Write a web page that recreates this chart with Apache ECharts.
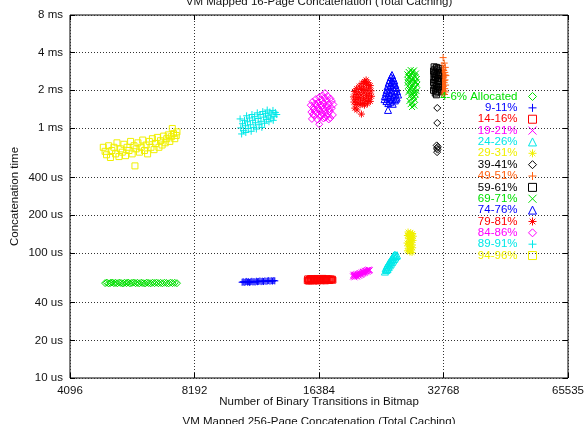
<!DOCTYPE html>
<html>
<head>
<meta charset="utf-8">
<script src="https://cdn.jsdelivr.net/npm/echarts@6/dist/echarts.min.js"></script>
<style>
  html, body { margin: 0; padding: 0; background: #fff; }
  #chart { width: 585px; height: 424px; }
</style>
</head>
<body>
<div id="chart"></div>
<script>
// Axis ticks
const xTickLabels = ['4096', '8192', '16384', '32768', '65535'];
const yTickUs = [10, 20, 40, 100, 200, 400, 1000, 2000, 4000, 8000];

// Series names, in legend order
const seriesNames = ['4-6% Allocated', '9-11%', '14-16%', '19-21%', '24-26%', '29-31%', '39-41%',
  '49-51%', '59-61%', '69-71%', '74-76%', '79-81%', '84-86%', '89-91%', '94-96%'];

// Measurements: [binary transitions, concatenation time in microseconds]
const alloc04_06 = [[4980,57.4],[5030,57.9],[5080,57.1],[5130,57.6],[5180,58.0],[5230,57.3],[5280,57.7],[5330,57.2],[5390,57.9],[5440,57.5],[5500,57.1],[5550,57.8],[5610,57.4],[5660,57.9],[5720,57.2],[5780,57.6],[5840,58.0],[5900,57.3],[5960,57.7],[6020,57.2],[6090,57.8],[6150,57.4],[6220,57.1],[6280,57.9],[6350,57.5],[6420,57.2],[6490,57.8],[6560,57.4],[6630,57.9],[6700,57.3],[6780,57.7],[6850,57.2],[6930,57.8],[7010,57.5],[7090,57.1],[7170,57.9],[7250,57.4],[7340,57.7],[7430,57.3]];
const alloc09_11 = [[10680,58.3],[10740,58.9],[10800,58.1],[10870,58.6],[10930,59.2],[11000,58.4],[11060,58.9],[11130,58.2],[11200,58.7],[11270,59.3],[11340,58.6],[11410,59.0],[11480,58.5],[11560,59.4],[11630,58.9],[11710,59.2],[11790,59.7],[11870,59.0],[11950,59.5],[12030,59.1],[12120,59.8],[12200,59.3],[12290,59.7],[12380,60.1],[12470,59.5],[12560,60.0],[12650,59.6],[12740,60.2],[12810,59.8]];
const alloc14_16 = [[15350,60.1],[15380,62.0],[15460,59.6],[15500,61.3],[15580,60.5],[15620,62.4],[15700,59.9],[15760,61.7],[15830,60.8],[15900,62.2],[15960,59.7],[16030,61.1],[16100,60.3],[16170,62.5],[16240,60.9],[16310,59.8],[16380,61.6],[16450,60.4],[16530,62.1],[16600,60.0],[16680,61.4],[16750,62.6],[16830,60.6],[16910,61.9],[16990,59.9],[17070,61.2],[17150,62.3],[17230,60.7],[17320,61.8],[17400,60.2],[17490,62.0],[17570,61.0],[17650,61.7],[17700,60.6]];
const alloc19_21 = [[19810,64.8],[19850,67.0],[19900,65.6],[19960,63.9],[20010,66.8],[20070,65.2],[20130,67.6],[20190,66.0],[20250,64.7],[20300,68.1],[20360,66.5],[20420,67.9],[20480,65.8],[20540,69.0],[20600,67.2],[20660,68.6],[20720,66.9],[20790,69.8],[20850,68.0],[20920,70.5],[20980,68.9],[21040,70.9],[21110,69.4],[21170,72.0],[21240,70.2],[21300,71.6],[21380,73.0],[21450,70.8],[21520,72.4],[21590,73.6],[21660,71.9],[21730,73.1]];
const alloc24_26 = [[23650,71],[23850,73],[23750,75.5],[24000,74.5],[23900,78],[24150,77],[24050,80.5],[24300,79.5],[24150,83],[24450,82],[24300,85.5],[24600,84.5],[24450,88],[24750,87],[24600,90.5],[24900,89.5],[24700,93],[25050,92],[24850,95.5],[25200,94.5],[25000,97],[25300,96]];
const alloc29_31 = [[26900,147],[27300,145],[27600,143],[27100,141],[27450,139],[26800,138],[27700,136],[27200,134],[27500,132],[26950,130],[27350,128],[27650,126],[27050,124],[27400,122],[26750,120],[27150,118],[27550,116],[26850,114],[27250,112],[27600,110],[27000,108],[27400,106],[26800,104],[27200,102],[27500,101]];
const alloc39_41 = [[31650,1445],[31650,1096],[31550,725],[31750,705],[31600,690],[31700,670],[31620,640]];
const alloc49_51 = [[32700,3650],[32900,3300],[32500,3150],[33100,3050],[32700,2950],[32400,2850],[33000,2780],[32600,2700],[33200,2620],[32800,2550],[32450,2480],[33050,2420],[32650,2360],[32900,2300],[32350,2250],[33150,2200],[32750,2150],[32500,2100],[33000,2060],[32600,2020],[32850,1980],[33100,1940],[32450,1920],[32700,1880],[32950,1850],[32550,2230],[33050,2650],[32800,2880],[32550,2580],[32900,2400]];
const alloc59_61 = [[31100,3080],[31500,3050],[31800,3000],[31250,2950],[31650,2900],[31000,2850],[31400,2800],[31800,2760],[31150,2700],[31550,2650],[31900,2600],[31050,2560],[31350,2520],[31700,2480],[31200,2430],[31600,2390],[31850,2350],[31000,2310],[31400,2270],[31750,2230],[31100,2190],[31500,2150],[31850,2120],[31250,2080],[31650,2040],[31000,2000],[31400,1970],[31750,1940],[31300,1900],[31500,1840]];
const alloc69_71 = [[27300,2900],[27800,2880],[27000,2800],[27550,2760],[28100,2720],[26800,2680],[27300,2640],[27900,2600],[27100,2540],[27650,2500],[28250,2460],[26850,2420],[27400,2380],[27950,2340],[27150,2290],[27700,2250],[28300,2210],[26900,2170],[27450,2130],[28000,2090],[27200,2050],[27750,2010],[28200,1970],[26950,1930],[27500,1890],[28050,1850],[27250,1810],[27800,1770],[27400,1720],[27950,1680],[27100,1640],[27650,1600],[27300,1550],[27850,1510],[27500,1470],[27600,2820],[26950,2560],[28050,2550],[27450,2450],[26850,2300],[28150,2320],[27550,2200],[27100,2000],[27900,1930],[27600,1830]];
const alloc74_76 = [[24600,2650],[24450,2550],[24750,2500],[24300,2420],[24900,2400],[24550,2350],[24150,2300],[24800,2280],[25050,2230],[24400,2200],[24000,2150],[24700,2120],[25200,2100],[24250,2060],[23900,2020],[24950,2000],[25300,1970],[24550,1950],[23800,1920],[24150,1900],[25100,1880],[25450,1850],[24400,1830],[23650,1800],[24800,1790],[23950,1760],[25250,1750],[24250,1720],[23600,1700],[24650,1690],[25000,1660],[23850,1640],[24400,1620],[24100,1580],[24700,1560],[24060,1393],[25150,1710]];
const alloc79_81 = [[21300,2420],[21100,2350],[21550,2300],[20800,2270],[21350,2220],[21800,2180],[20500,2160],[21000,2120],[21600,2080],[20200,2060],[20750,2030],[21300,2000],[21900,1980],[19950,1960],[20450,1930],[21050,1910],[21650,1880],[20150,1850],[20700,1830],[21350,1810],[21950,1790],[19850,1770],[20400,1750],[21000,1730],[21600,1710],[20100,1690],[20650,1670],[21250,1650],[21800,1630],[19900,1610],[20350,1590],[20900,1570],[21450,1560],[20150,1540],[20600,1530],[21100,1520],[20240,1393],[20750,1290],[20000,1440]];
const alloc84_86 = [[16940,1900],[16700,1820],[17200,1800],[16400,1760],[16900,1740],[17450,1720],[16100,1700],[16600,1680],[17100,1660],[17600,1640],[15800,1620],[16300,1600],[16800,1580],[17300,1560],[17750,1540],[15650,1520],[16150,1500],[16650,1480],[17150,1460],[17600,1440],[15900,1420],[16400,1400],[16900,1380],[17400,1360],[15700,1340],[16200,1320],[16700,1300],[17200,1290],[17700,1270],[15950,1250],[16450,1230],[16950,1210],[17450,1200],[15750,1180],[16250,1165],[16800,1190],[17300,1170],[16400,1070],[16050,1560],[16550,1540],[17050,1520],[15850,1460],[16350,1440],[16850,1430],[17350,1410],[16000,1360],[16500,1350],[17000,1330],[15850,1280],[16600,1250],[17100,1240]];
const alloc89_91 = [[10560,1180],[10600,1000],[10650,895],[10700,1080],[10760,950],[10820,1150],[10880,1040],[10900,920],[10950,1250],[11000,1120],[11050,990],[11120,1200],[11180,1060],[11230,940],[11280,1280],[11330,1150],[11400,1010],[11450,1230],[11500,1100],[11560,980],[11620,1320],[11680,1190],[11740,1060],[11800,1280],[11860,1130],[11920,1010],[11980,1350],[12040,1220],[12100,1090],[12160,1300],[12220,1170],[12280,1390],[12340,1250],[12400,1120],[12460,1340],[12520,1200],[12600,1290],[12680,1380],[12760,1230],[12850,1330],[12950,1280],[12700,1150]];
const alloc94_96 = [[4930,700],[4980,650],[5020,610],[5080,720],[5130,580],[5170,660],[5230,700],[5280,620],[5320,760],[5380,590],[5430,680],[5480,640],[5530,740],[5580,600],[5630,700],[5690,660],[5740,780],[5790,620],[5850,720],[5880,497],[5920,680],[5980,760],[6030,640],[6090,700],[6140,800],[6200,660],[6260,730],[6310,620],[6370,780],[6430,700],[6480,820],[6540,670],[6600,750],[6660,840],[6720,700],[6780,790],[6840,730],[6900,860],[6960,760],[7020,820],[7080,880],[7140,780],[7200,850],[7240,990],[7290,900],[7340,820],[7400,870],[7430,930]];

const seriesData = [alloc04_06, alloc09_11, alloc14_16, alloc19_21, alloc24_26, alloc29_31, alloc39_41,
  alloc49_51, alloc59_61, alloc69_71, alloc74_76, alloc79_81, alloc84_86, alloc89_91, alloc94_96];

// Point styles (gnuplot-like point types)
const PT = {
  diamond: { symbol: 'diamond', size: 7 },
  plus: { symbol: 'path://M0,5L10,5M5,0L5,10', size: 7 },
  square: { symbol: 'rect', size: 6 },
  cross: { symbol: 'path://M0,0L10,10M0,10L10,0', size: 6 },
  triangle: { symbol: 'triangle', size: 7 },
  star: { symbol: 'path://M0,5L10,5M5,0L5,10M1.5,1.5L8.5,8.5M1.5,8.5L8.5,1.5', size: 7 }
};
const seriesPoints = ['diamond', 'plus', 'square', 'cross', 'triangle', 'star', 'diamond',
  'plus', 'square', 'cross', 'triangle', 'star', 'diamond', 'plus', 'square'];
const seriesColors = ['#00e000', '#0000ff', '#ff0000', '#ff00ff', '#00e8e8', '#f0f000', '#000000',
  '#ff6010', '#000000', '#00e000', '#0000ff', '#ff0000', '#ff00ff', '#00e8e8', '#f0f000'];

const FONT = '"Liberation Sans", Arial, Helvetica, sans-serif';
const log10 = v => Math.log(v) / Math.LN10;
const yTickLog = yTickUs.map(log10);
const fmtTime = us => (us >= 1000 ? (us / 1000) + ' ms' : us + ' us');

const chart = echarts.init(document.getElementById('chart'), null, { renderer: 'canvas' });

const grid = { left: 70, right: 17, top: 15, bottom: 46, show: true, borderColor: '#000', borderWidth: 1, outerBoundsMode: 'none' };

const series = seriesNames.map((name, i) => {
  const pt = PT[seriesPoints[i]];
  return {
    name: name,
    type: 'scatter',
    xAxisIndex: 0,
    yAxisIndex: 0,
    data: seriesData[i],
    symbol: pt.symbol,
    symbolSize: pt.size,
    itemStyle: { color: 'rgba(0,0,0,0)', borderColor: seriesColors[i], borderWidth: 1, opacity: 1 },
    emphasis: { disabled: true },
    silent: true
  };
});

const legends = seriesNames.map((name, i) => ({
  data: [{ name: name, textStyle: { color: seriesColors[i] } }],
  orient: 'vertical',
  right: 48,
  top: 90.5 + i * 11.36,
  align: 'right',
  padding: 0,
  itemWidth: 8,
  itemHeight: 8,
  selectedMode: false,
  itemStyle: { borderWidth: 1 },
  textStyle: { fontFamily: FONT, fontSize: 11.5, padding: [0, 6, 0, 0] }
}));

const tickLine = { show: true, inside: true, length: 5, lineStyle: { color: '#000', width: 1 } };
const gridDots = { show: true, lineStyle: { color: '#333', type: [1, 2], width: 1 } };

chart.setOption({
  animation: false,
  backgroundColor: '#fff',
  grid: grid,
  legend: legends,
  graphic: [
    { type: 'text', x: 319, y: 2, style: { text: 'VM Mapped 16-Page Concatenation (Total Caching)', align: 'center', verticalAlign: 'middle', fontFamily: FONT, fontSize: 11.5, fill: '#111' } },
    { type: 'text', x: 319, y: 422, style: { text: 'VM Mapped 256-Page Concatenation (Total Caching)', align: 'center', verticalAlign: 'middle', fontFamily: FONT, fontSize: 11.5, fill: '#111' } }
  ],
  xAxis: [
    {
      type: 'log', logBase: 2, min: 4096, max: 65536,
      name: 'Number of Binary Transitions in Bitmap', nameLocation: 'middle', nameGap: 18,
      nameMoveOverlap: false,
      nameTextStyle: { fontFamily: FONT, fontSize: 11.5, color: '#111' },
      axisLine: { show: false },
      axisTick: tickLine,
      splitLine: gridDots,
      minorTick: { show: false }, minorSplitLine: { show: false },
      axisLabel: { margin: 7, fontFamily: FONT, fontSize: 11.5, color: '#111', formatter: (v, idx) => xTickLabels[idx] }
    },
    {
      type: 'log', logBase: 2, min: 4096, max: 65536, position: 'top',
      axisLine: { show: false }, axisTick: tickLine, axisLabel: { show: false }, splitLine: { show: false }
    }
  ],
  yAxis: [
    {
      type: 'log', logBase: 10, min: 10, max: 8000,
      axisLine: { show: false }, axisTick: { show: false }, axisLabel: { show: false }, splitLine: { show: false }
    },
    {
      type: 'value', min: log10(10), max: log10(8000), position: 'left',
      name: 'Concatenation time', nameLocation: 'middle', nameGap: 49,
      nameMoveOverlap: false,
      nameTextStyle: { fontFamily: FONT, fontSize: 11.5, color: '#111' },
      axisLine: { show: false },
      axisTick: Object.assign({ customValues: yTickLog }, tickLine),
      splitLine: gridDots,
      axisLabel: {
        customValues: yTickLog, margin: 7, fontFamily: FONT, fontSize: 11.5, color: '#111',
        formatter: v => fmtTime(Math.round(Math.pow(10, v)))
      }
    },
    {
      type: 'value', min: log10(10), max: log10(8000), position: 'right',
      axisLine: { show: false },
      axisTick: Object.assign({ customValues: yTickLog }, tickLine),
      axisLabel: { show: false }, splitLine: { show: false }
    }
  ],
  series: series
});
</script>
</body>
</html>
